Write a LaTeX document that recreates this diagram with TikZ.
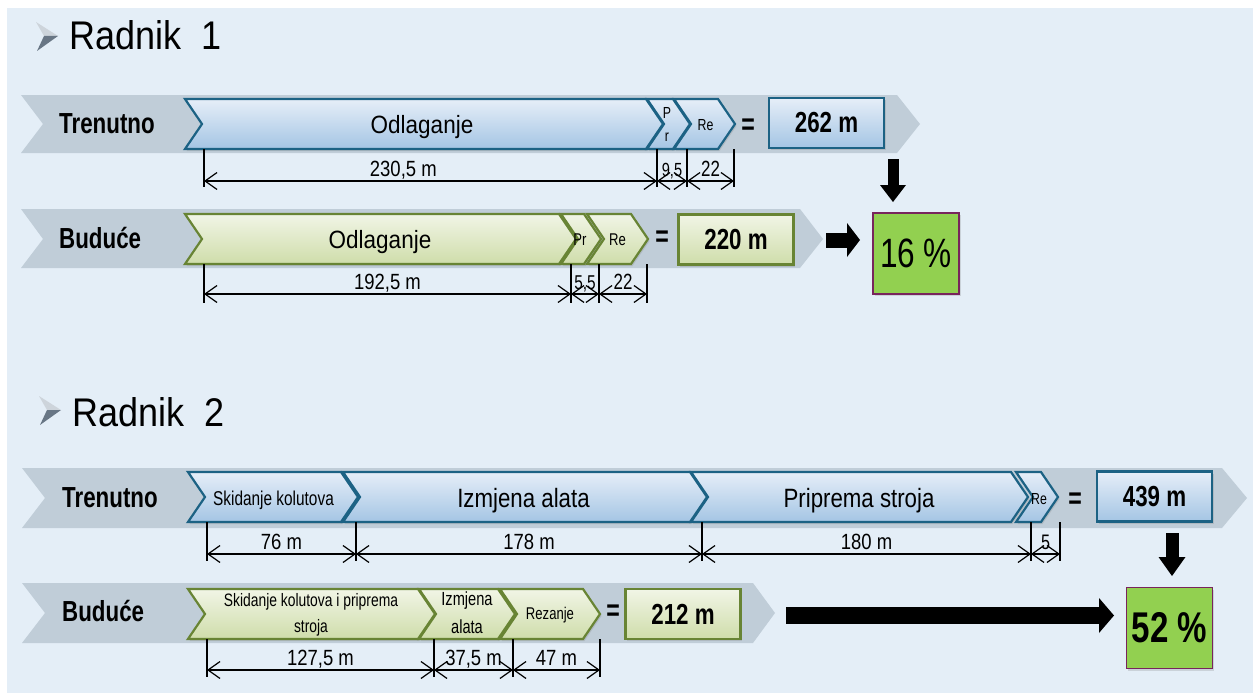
\documentclass[tikz,border=0pt]{standalone}
\usepackage{fontspec}
\setmainfont{Liberation Sans}
\newfontfamily\fwide{Liberation Sans}[FakeStretch=0.9]
\newfontfamily\fmid{Liberation Sans}[FakeStretch=0.84]
\newfontfamily\fnarrow{Liberation Sans}[FakeStretch=0.77]
\usepackage{xcolor}
\usetikzlibrary{arrows.meta, shadows, positioning}

\definecolor{bgblue}{RGB}{228,238,247}
\definecolor{bandgray}{RGB}{192,205,216}
\definecolor{curline}{RGB}{28,98,132}
\definecolor{curtop}{RGB}{230,238,248}
\definecolor{curbot}{RGB}{164,197,228}
\definecolor{newline}{RGB}{104,132,52}
\definecolor{newtop}{RGB}{241,245,230}
\definecolor{newbot}{RGB}{207,221,170}
\definecolor{pctgreen}{RGB}{146,208,80}
\definecolor{pctline}{RGB}{120,36,92}
\definecolor{bulletlight}{RGB}{205,212,219}
\definecolor{bulletdark}{RGB}{104,118,133}

\begin{document}
\begin{tikzpicture}[x=1pt, y=-1pt]
    % Styles
    \tikzset{
        band/.style     = {fill=bandgray},
        curchev/.style  = {draw=curline, line width=2.2pt, top color=curtop, bottom color=curbot, drop shadow={shadow xshift=1.5pt, shadow yshift=-2pt, opacity=0.25}},
        newchev/.style  = {draw=newline, line width=2.2pt, top color=newtop, bottom color=newbot, drop shadow={shadow xshift=1.5pt, shadow yshift=-2pt, opacity=0.25}},
        chevtext/.style = {anchor=base, inner sep=0pt},
        curbox/.style   = {rectangle, draw=curline, line width=2.2pt, top color=curtop, bottom color=curbot, minimum width=115pt, minimum height=50pt, inner sep=0pt, font=\fnarrow\bfseries\fontsize{29}{31}\selectfont, drop shadow={shadow xshift=1.5pt, shadow yshift=-2pt, opacity=0.25}},
        newbox/.style   = {rectangle, draw=newline, line width=2.2pt, top color=newtop, bottom color=newbot, minimum width=115pt, minimum height=50pt, inner sep=0pt, font=\fnarrow\bfseries\fontsize{29}{31}\selectfont, drop shadow={shadow xshift=1.5pt, shadow yshift=-2pt, opacity=0.25}},
        pctbox/.style   = {rectangle, draw=pctline, line width=1.6pt, fill=pctgreen, minimum width=86pt, minimum height=81pt, inner sep=0pt, drop shadow={shadow xshift=1.5pt, shadow yshift=-2pt, opacity=0.25}},
        rowlabel/.style = {anchor=base west, inner sep=0pt, font=\fnarrow\bfseries\fontsize{29}{31}\selectfont},
        heading/.style  = {anchor=base west, inner sep=0pt, font=\fwide\fontsize{40}{42}\selectfont},
        eqsign/.style   = {inner sep=0pt, font=\fnarrow\bfseries\fontsize{30}{32}\selectfont},
        extline/.style  = {draw, line width=1.2pt},
        dimline/.style  = {draw, line width=1.2pt, {Straight Barb[length=12pt, width=17pt]}-{Straight Barb[length=12pt, width=17pt]}},
        dimtext/.style  = {above, inner sep=1pt, text depth=3pt, font=\fmid\fontsize{22}{24}\selectfont},
        fatarrow/.style n args = {3}{draw, line width=#1, -{Triangle[length=#2, width=#3, line width=0pt]}}
    }

    % Fond
    \useasboundingbox (0,0) rectangle (1253,693);
    \fill[white] (0,0) rectangle (1253,693);
    \fill[bgblue] (7,8) rectangle (1253,693);

    % Radnik 1
    \fill[bulletlight] (36,22) -- (58,36) -- (44,36) -- cycle;
    \fill[bulletdark] (44,36) -- (58,36) -- (37,51) -- cycle;
    \node[heading] (rad1) at (69,50) {Radnik\ \ 1};

    % Bandes grises
    \path[band] (21,95) -- (897,95) -- (920,124) -- (897,153) -- (21,153) -- (43,124) -- cycle;
    \path[band] (21,209) -- (800,209) -- (823,239) -- (800,268) -- (21,268) -- (43,239) -- cycle;
    \node[rowlabel] (lab1) at (59,133) {Trenutno};
    \node[rowlabel] (lab2) at (59,248) {Buduće};

    % Trenutno - Radnik 1
    \draw[curchev] (185,99) -- (646,99) -- (663,124) -- (646,149) -- (185,149) -- (202,124) -- cycle;
    \draw[curchev] (647,99) -- (673,99) -- (690,124) -- (673,149) -- (647,149) -- (664,124) -- cycle;
    \draw[curchev] (674,99) -- (718,99) -- (735,124) -- (718,149) -- (674,149) -- (691,124) -- cycle;
    \node[chevtext, font=\fwide\fontsize{25}{27}\selectfont] (odl1) at (422,133) {Odlaganje};
    \node[anchor=center, inner sep=0pt, align=center, font=\fnarrow\fontsize{16}{23}\selectfont] (pr1) at (667,124) {P\\r};
    \node[chevtext, font=\fnarrow\fontsize{16}{18}\selectfont] (re1) at (705.5,130) {Re};
    \node[eqsign] (eq1) at (748,127) {=};
    \node[curbox] (tot1) at (826.5,123) {262 m};

    % Buduće - Radnik 1
    \draw[newchev] (185,214) -- (559,214) -- (576,239) -- (559,264) -- (185,264) -- (202,239) -- cycle;
    \draw[newchev] (561,214) -- (584,214) -- (601,239) -- (584,264) -- (561,264) -- (578,239) -- cycle;
    \draw[newchev] (587,214) -- (631,214) -- (648,239) -- (631,264) -- (587,264) -- (604,239) -- cycle;
    \node[chevtext, font=\fwide\fontsize{25}{27}\selectfont] (odl2) at (380,248) {Odlaganje};
    \node[chevtext, font=\fnarrow\fontsize{17}{19}\selectfont] (pr2) at (580,245) {Pr};
    \node[chevtext, font=\fnarrow\fontsize{17}{19}\selectfont] (re2) at (617.5,245) {Re};
    \node[eqsign] (eq2) at (662,239) {=};
    \node[newbox] (tot2) at (736,239.5) {220 m};
    \node[pctbox, font=\fnarrow\fontsize{41}{43}\selectfont] (pct1) at (916,253.5) {16 \%};

    % Flèches Radnik 1
    \coordinate (d1s) at (893,159);
    \coordinate (d1e) at (893,202);
    \coordinate (h1s) at (826,240);
    \coordinate (h1e) at (860,240);
    \draw[fatarrow={11pt}{17pt}{26pt}] (d1s) -- (d1e);
    \draw[fatarrow={15pt}{13pt}{34pt}] (h1s) -- (h1e);

    % Cotes Radnik 1
    \draw[extline] (204,149) -- (204,187);
    \draw[extline] (657,149) -- (657,187);
    \draw[extline] (687,149) -- (687,187);
    \draw[extline] (734,149) -- (734,187);
    \coordinate (c1a) at (204,181);
    \coordinate (c1b) at (657,181);
    \coordinate (c1c) at (687,181);
    \coordinate (c1d) at (734,181);
    \draw[dimline] (c1a) -- node[dimtext, pos=0.44] {230,5 m} (c1b);
    \draw[dimline] (c1b) -- node[dimtext, font=\fnarrow\fontsize{19}{21}\selectfont] {9,5} (c1c);
    \draw[dimline] (c1c) -- node[dimtext, font=\fnarrow\fontsize{22}{24}\selectfont] {22} (c1d);

    \draw[extline] (204,264) -- (204,303);
    \draw[extline] (571,264) -- (571,303);
    \draw[extline] (599,264) -- (599,303);
    \draw[extline] (647,264) -- (647,303);
    \coordinate (c2a) at (204,294);
    \coordinate (c2b) at (571,294);
    \coordinate (c2c) at (599,294);
    \coordinate (c2d) at (647,294);
    \draw[dimline] (c2a) -- node[dimtext, pos=0.50] {192,5 m} (c2b);
    \draw[dimline] (c2b) -- node[dimtext, font=\fnarrow\fontsize{20}{22}\selectfont] {5,5} (c2c);
    \draw[dimline] (c2c) -- node[dimtext, font=\fnarrow\fontsize{22}{24}\selectfont] {22} (c2d);

    % Radnik 2
    \fill[bulletlight] (39,396) -- (61,410) -- (47,410) -- cycle;
    \fill[bulletdark] (47,410) -- (61,410) -- (40,425) -- cycle;
    \node[heading] (rad2) at (72,426) {Radnik\ \ 2};

    \path[band] (22,468) -- (1222,468) -- (1247,498) -- (1222,528) -- (22,528) -- (45,498) -- cycle;
    \path[band] (22,583) -- (753,583) -- (775,613) -- (753,643) -- (22,643) -- (45,613) -- cycle;
    \node[rowlabel] (lab3) at (62,507) {Trenutno};
    \node[rowlabel] (lab4) at (62,621) {Buduće};

    % Trenutno - Radnik 2
    \draw[curchev] (188,472) -- (341,472) -- (358,497) -- (341,522) -- (188,522) -- (205,497) -- cycle;
    \draw[curchev] (343,472) -- (690,472) -- (707,497) -- (690,522) -- (343,522) -- (360,497) -- cycle;
    \draw[curchev] (691,472) -- (1011,472) -- (1028,497) -- (1011,522) -- (691,522) -- (708,497) -- cycle;
    \draw[curchev] (1016,472) -- (1041,472) -- (1058,497) -- (1041,522) -- (1016,522) -- (1033,497) -- cycle;
    \node[chevtext, font=\fnarrow\fontsize{20}{22}\selectfont] (sk3) at (273.5,505) {Skidanje kolutova};
    \node[chevtext, font=\fmid\fontsize{26.5}{28}\selectfont] (iz3) at (523.5,507) {Izmjena alata};
    \node[chevtext, font=\fmid\fontsize{26.5}{28}\selectfont] (pp3) at (859,507) {Priprema stroja};
    \node[chevtext, font=\fnarrow\fontsize{16}{18}\selectfont] (re3) at (1039,504) {Re};
    \node[eqsign] (eq3) at (1075,501) {=};
    \node[curbox] (tot3) at (1154.5,496.5) {439 m};

    % Buduće - Radnik 2
    \draw[newchev] (188,589) -- (418,589) -- (435,614) -- (418,639) -- (188,639) -- (205,614) -- cycle;
    \draw[newchev] (419,589) -- (498,589) -- (515,614) -- (498,639) -- (419,639) -- (436,614) -- cycle;
    \draw[newchev] (500,589) -- (583,589) -- (600,614) -- (583,639) -- (500,639) -- (517,614) -- cycle;
    \node[anchor=center, inner sep=0pt, align=center, font=\fnarrow\fontsize{18}{26}\selectfont] (sk4) at (311,615) {Skidanje kolutova i priprema\\stroja};
    \node[anchor=center, inner sep=0pt, align=center, font=\fnarrow\fontsize{19}{28}\selectfont] (iz4) at (467,613) {Izmjena\\alata};
    \node[chevtext, font=\fnarrow\fontsize{17}{19}\selectfont] (rz4) at (550,619) {Rezanje};
    \node[eqsign] (eq4) at (613,613) {=};
    \node[newbox] (tot4) at (683,614) {212 m};
    \node[pctbox, font=\fnarrow\bfseries\fontsize{43}{45}\selectfont] (pct2) at (1169.5,628) {52 \%};

    % Flèches Radnik 2
    \coordinate (d2s) at (1172,533);
    \coordinate (d2e) at (1172,576);
    \coordinate (h2s) at (786,615.5);
    \coordinate (h2e) at (1114,615.5);
    \draw[fatarrow={13pt}{19pt}{27pt}] (d2s) -- (d2e);
    \draw[fatarrow={17pt}{15pt}{35pt}] (h2s) -- (h2e);

    % Cotes Radnik 2
    \draw[extline] (207,522) -- (207,561);
    \draw[extline] (356,522) -- (356,561);
    \draw[extline] (702,522) -- (702,561);
    \draw[extline] (1031,522) -- (1031,561);
    \draw[extline] (1060,522) -- (1060,561);
    \coordinate (c3a) at (207,554);
    \coordinate (c3b) at (356,554);
    \coordinate (c3c) at (702,554);
    \coordinate (c3d) at (1031,554);
    \coordinate (c3e) at (1060,554);
    \draw[dimline] (c3a) -- node[dimtext] {76 m} (c3b);
    \draw[dimline] (c3b) -- node[dimtext] {178 m} (c3c);
    \draw[dimline] (c3c) -- node[dimtext] {180 m} (c3d);
    \draw[dimline] (c3d) -- node[dimtext, font=\fnarrow\fontsize{21}{23}\selectfont] {5} (c3e);

    \draw[extline] (207,639) -- (207,677);
    \draw[extline] (434,639) -- (434,677);
    \draw[extline] (513,639) -- (513,677);
    \draw[extline] (600,639) -- (600,677);
    \coordinate (c4a) at (207,670);
    \coordinate (c4b) at (434,670);
    \coordinate (c4c) at (513,670);
    \coordinate (c4d) at (600,670);
    \draw[dimline] (c4a) -- node[dimtext] {127,5 m} (c4b);
    \draw[dimline] (c4b) -- node[dimtext] {37,5 m} (c4c);
    \draw[dimline] (c4c) -- node[dimtext] {47 m} (c4d);
\end{tikzpicture}
\end{document}
